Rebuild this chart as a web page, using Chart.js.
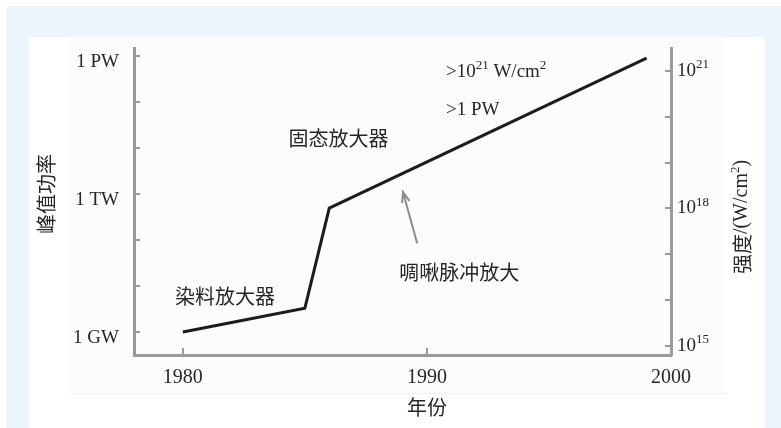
<!DOCTYPE html>
<html>
<head>
<meta charset="utf-8">
<script src="https://cdn.jsdelivr.net/npm/chart.js@4.4.0/dist/chart.umd.min.js"></script>
<style>
html, body { margin: 0; padding: 0; background: #fff; }
canvas { display: block; }
</style>
</head>
<body>
<canvas id="chart" width="781" height="428"></canvas>
<script>
// data
var years = [1980, 1985, 1986, 1999];
var peakPower = [1e9, 3.3e9, 4.9e11, 8.9e14]; // W
var yearTicks = [1980, 1990, 2000];
var powerTicks = [1e9, 1e10, 1e11, 1e12, 1e13, 1e14, 1e15];
var powerLabelValues = [1e9, 1e12, 1e15];
var powerLabels = ["1 GW", "1 TW", "1 PW"];
var intensityTicks = [1e15, 1e16, 1e17, 1e18, 1e19, 1e20, 1e21];
var intensityLabelValues = [1e15, 1e18, 1e21];
var intensityExponents = ["15", "18", "21"];

var SERIF = '"Liberation Serif", "Times New Roman", serif';
var CJK = '"Noto Sans CJK SC", sans-serif';
var TEXT = "#262626";
var AXIS = "#9a9a9a";

function log10(v) { return Math.log(v) / Math.LN10; }

// draw a run of text pieces (for superscripts)
function drawParts(ctx, parts, x, y, align) {
    var total = 0;
    parts.forEach(function(p) {
        ctx.font = p.size + "px " + p.font;
        p.w = ctx.measureText(p.t).width;
        total += p.w;
    });
    var cx = x;
    if (align === "center") cx = x - total / 2;
    else if (align === "right") cx = x - total;
    ctx.textAlign = "left";
    ctx.textBaseline = "middle";
    parts.forEach(function(p) {
        ctx.font = p.size + "px " + p.font;
        ctx.fillText(p.t, cx, y + (p.dy || 0));
        cx += p.w;
    });
}

var backgroundPlugin = {
    id: "background",
    beforeDraw: function(chart) {
        var ctx = chart.ctx;
        ctx.save();
        ctx.fillStyle = "#ffffff";
        ctx.fillRect(0, 0, 781, 428);
        ctx.fillStyle = "#edf5fc";
        ctx.fillRect(6, 6, 775, 422);
        ctx.fillStyle = "#ffffff";
        ctx.fillRect(29, 37, 736, 391);
        ctx.fillStyle = "#fcfcfc";
        ctx.fillRect(70, 37, 656, 356);
        ctx.fillStyle = "#f0f0f0";
        ctx.fillRect(70, 393, 656, 1);
        ctx.restore();
    }
};

var notesPlugin = {
    id: "notes",
    afterDraw: function(chart) {
        var ctx = chart.ctx;
        var xs = chart.scales.x, ys = chart.scales.y, y2 = chart.scales.y2;
        var px = function(v) { return xs.getPixelForValue(v); };
        var py = function(v) { return ys.getPixelForValue(v); };
        ctx.save();
        ctx.fillStyle = TEXT;

        // right axis labels 10^n
        intensityLabelValues.forEach(function(v, i) {
            var yy = y2.getPixelForValue(v);
            drawParts(ctx, [
                {t: "10", size: 19, font: SERIF},
                {t: intensityExponents[i], size: 13, font: SERIF, dy: -6}
            ], chart.chartArea.right + 6, yy, "left");
        });

        // annotations
        drawParts(ctx, [{t: "染料放大器", size: 20, font: CJK}], px(1981.73), py(6.0e9), "center");
        drawParts(ctx, [{t: "固态放大器", size: 20, font: CJK}], px(1986.38), py(1.62e13), "center");
        drawParts(ctx, [{t: "啁啾脉冲放大", size: 20, font: CJK}], px(1991.33), py(2.0e10), "center");
        drawParts(ctx, [
            {t: ">10", size: 19, font: SERIF},
            {t: "21", size: 13, font: SERIF, dy: -6},
            {t: " W/cm", size: 19, font: SERIF},
            {t: "2", size: 13, font: SERIF, dy: -6}
        ], px(1990.78), py(4.5e14), "left");
        drawParts(ctx, [{t: ">1 PW", size: 19, font: SERIF}], px(1990.78), py(6.8e13), "left");

        // arrow for chirped pulse amplification
        var x0 = px(1989.6), y0 = py(8.5e10), x1 = px(1989.02), y1 = py(1.1e12);
        var ang = Math.atan2(y1 - y0, x1 - x0);
        ctx.strokeStyle = "#8c8c8c";
        ctx.lineWidth = 2;
        ctx.beginPath();
        ctx.moveTo(x0, y0);
        ctx.lineTo(x1, y1);
        ctx.moveTo(x1 - 11 * Math.cos(ang - 0.35), y1 - 11 * Math.sin(ang - 0.35));
        ctx.lineTo(x1, y1);
        ctx.lineTo(x1 - 11 * Math.cos(ang + 0.35), y1 - 11 * Math.sin(ang + 0.35));
        ctx.stroke();

        // axis titles
        ctx.fillStyle = TEXT;
        drawParts(ctx, [{t: "年份", size: 20, font: CJK}], px(1990), 407, "center");

        ctx.save();
        ctx.translate(46, 194);
        ctx.rotate(-Math.PI / 2);
        drawParts(ctx, [{t: "峰值功率", size: 20, font: CJK}], 0, 0, "center");
        ctx.restore();

        ctx.save();
        ctx.translate(742, 217);
        ctx.rotate(-Math.PI / 2);
        drawParts(ctx, [
            {t: "强度", size: 20, font: CJK},
            {t: "/(W/cm", size: 20, font: SERIF},
            {t: "2", size: 13, font: SERIF, dy: -6},
            {t: ")", size: 20, font: SERIF}
        ], 0, 0, "center");
        ctx.restore();

        ctx.restore();
    }
};

var ctx = document.getElementById("chart").getContext("2d");

var chart = new Chart(ctx, {
    type: "line",
    data: {
        datasets: [{
            data: years.map(function(y, i) { return {x: y, y: peakPower[i]}; }),
            borderColor: "#1c1c1c",
            borderWidth: 3,
            borderJoinStyle: "miter",
            pointRadius: 0,
            tension: 0,
            fill: false,
            xAxisID: "x",
            yAxisID: "y"
        }]
    },
    options: {
        responsive: false,
        animation: false,
        layout: { padding: { top: 48, left: 0, right: 0, bottom: 0 } },
        plugins: {
            legend: { display: false },
            tooltip: { enabled: false }
        },
        scales: {
            x: {
                type: "linear",
                position: "bottom",
                min: 1978,
                max: 2000,
                afterBuildTicks: function(s) {
                    s.ticks = yearTicks.map(function(v) { return {value: v}; });
                },
                afterFit: function(s) { s.height = 73; },
                grid: { drawOnChartArea: false, drawTicks: true, tickLength: -7, color: AXIS, lineWidth: 2 },
                border: { display: true, color: AXIS, width: 3 },
                ticks: {
                    padding: 18,
                    color: TEXT,
                    maxRotation: 0,
                    font: { family: SERIF, size: 20 },
                    callback: function(v) { return String(v); }
                }
            },
            y: {
                type: "logarithmic",
                position: "left",
                min: Math.pow(10, 8.5),
                max: Math.pow(10, 15.17),
                afterBuildTicks: function(s) {
                    s.ticks = powerTicks.map(function(v) { return {value: v}; });
                },
                afterFit: function(s) { s.width = 134; },
                grid: { drawOnChartArea: false, drawTicks: true, tickLength: -6, color: AXIS, lineWidth: 2 },
                border: { display: true, color: AXIS, width: 3 },
                ticks: {
                    padding: 21,
                    labelOffset: 6,
                    color: TEXT,
                    font: { family: SERIF, size: 19 },
                    callback: function(v) {
                        for (var i = 0; i < powerLabelValues.length; i++) {
                            if (Math.abs(log10(v) - log10(powerLabelValues[i])) < 1e-6) return powerLabels[i];
                        }
                        return "";
                    }
                }
            },
            y2: {
                type: "logarithmic",
                position: "right",
                display: true,
                min: Math.pow(10, 14.8),
                max: Math.pow(10, 21.5),
                afterBuildTicks: function(s) {
                    s.ticks = intensityTicks.map(function(v) { return {value: v}; });
                },
                afterFit: function(s) { s.width = 110; },
                grid: { drawOnChartArea: false, drawTicks: true, tickLength: -6, color: AXIS, lineWidth: 2 },
                border: { display: true, color: AXIS, width: 3 },
                ticks: { display: false }
            }
        }
    },
    plugins: [backgroundPlugin, notesPlugin]
});
</script>
</body>
</html>
